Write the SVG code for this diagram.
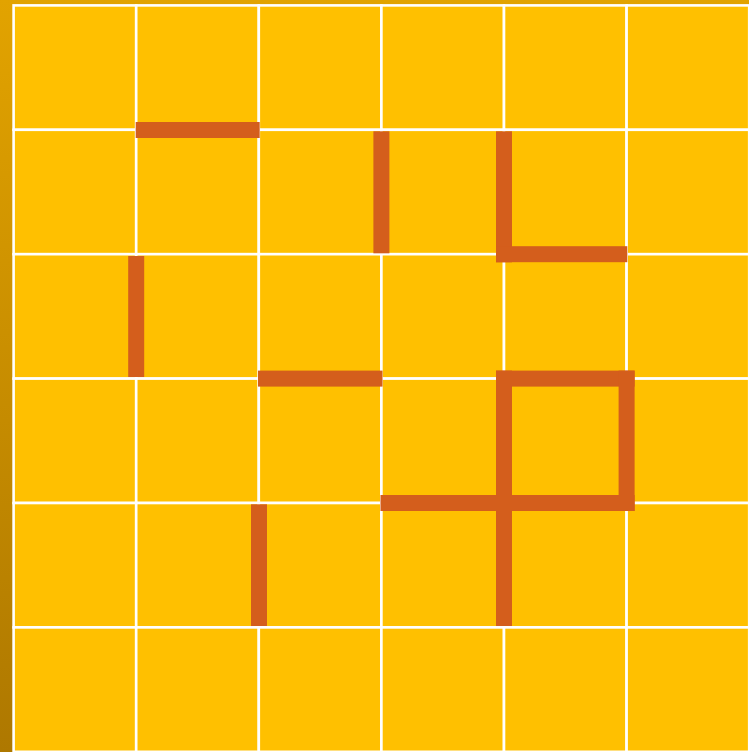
<svg xmlns="http://www.w3.org/2000/svg" width="749" height="752" viewBox="0 0 749 752">
<defs>
<linearGradient id="bg" x1="0" y1="0" x2="0" y2="1">
<stop offset="0" stop-color="#E2A300"/>
<stop offset="1" stop-color="#AE7800"/>
</linearGradient>
</defs>
<style>
.cell{fill:#FFC000;stroke:#FFFFFF;stroke-width:2.6}
.wall{fill:#D45E1C}
</style>
<rect x="0" y="0" width="749" height="752" fill="url(#bg)"/>
<g id="grid">
<rect class="cell" x="13.6" y="5.4" width="122.6" height="124.4"/>
<rect class="cell" x="136.2" y="5.4" width="122.6" height="124.4"/>
<rect class="cell" x="258.8" y="5.4" width="122.6" height="124.4"/>
<rect class="cell" x="381.4" y="5.4" width="122.6" height="124.4"/>
<rect class="cell" x="504" y="5.4" width="122.6" height="124.4"/>
<rect class="cell" x="626.6" y="5.4" width="122.6" height="124.4"/>
<rect class="cell" x="13.6" y="129.8" width="122.6" height="124.4"/>
<rect class="cell" x="136.2" y="129.8" width="122.6" height="124.4"/>
<rect class="cell" x="258.8" y="129.8" width="122.6" height="124.4"/>
<rect class="cell" x="381.4" y="129.8" width="122.6" height="124.4"/>
<rect class="cell" x="504" y="129.8" width="122.6" height="124.4"/>
<rect class="cell" x="626.6" y="129.8" width="122.6" height="124.4"/>
<rect class="cell" x="13.6" y="254.2" width="122.6" height="124.4"/>
<rect class="cell" x="136.2" y="254.2" width="122.6" height="124.4"/>
<rect class="cell" x="258.8" y="254.2" width="122.6" height="124.4"/>
<rect class="cell" x="381.4" y="254.2" width="122.6" height="124.4"/>
<rect class="cell" x="504" y="254.2" width="122.6" height="124.4"/>
<rect class="cell" x="626.6" y="254.2" width="122.6" height="124.4"/>
<rect class="cell" x="13.6" y="378.6" width="122.6" height="124.4"/>
<rect class="cell" x="136.2" y="378.6" width="122.6" height="124.4"/>
<rect class="cell" x="258.8" y="378.6" width="122.6" height="124.4"/>
<rect class="cell" x="381.4" y="378.6" width="122.6" height="124.4"/>
<rect class="cell" x="504" y="378.6" width="122.6" height="124.4"/>
<rect class="cell" x="626.6" y="378.6" width="122.6" height="124.4"/>
<rect class="cell" x="13.6" y="503" width="122.6" height="124.4"/>
<rect class="cell" x="136.2" y="503" width="122.6" height="124.4"/>
<rect class="cell" x="258.8" y="503" width="122.6" height="124.4"/>
<rect class="cell" x="381.4" y="503" width="122.6" height="124.4"/>
<rect class="cell" x="504" y="503" width="122.6" height="124.4"/>
<rect class="cell" x="626.6" y="503" width="122.6" height="124.4"/>
<rect class="cell" x="13.6" y="627.4" width="122.6" height="124.4"/>
<rect class="cell" x="136.2" y="627.4" width="122.6" height="124.4"/>
<rect class="cell" x="258.8" y="627.4" width="122.6" height="124.4"/>
<rect class="cell" x="381.4" y="627.4" width="122.6" height="124.4"/>
<rect class="cell" x="504" y="627.4" width="122.6" height="124.4"/>
<rect class="cell" x="626.6" y="627.4" width="122.6" height="124.4"/>
</g>
<g id="walls">
<rect class="wall" x="135.7" y="122" width="124" height="16"/>
<rect class="wall" x="373.4" y="131.3" width="16" height="122"/>
<rect class="wall" x="496" y="131.3" width="16" height="131"/>
<rect class="wall" x="496" y="246.2" width="131.3" height="16"/>
<rect class="wall" x="128.2" y="256" width="16" height="121"/>
<rect class="wall" x="258" y="370.6" width="124.5" height="16"/>
<rect class="wall" x="496" y="370.6" width="138.6" height="16"/>
<rect class="wall" x="618.6" y="370.6" width="16" height="140.4"/>
<rect class="wall" x="380.5" y="495" width="254.1" height="16"/>
<rect class="wall" x="496" y="370.6" width="16" height="255.4"/>
<rect class="wall" x="251" y="504.3" width="16" height="121.7"/>
</g>
</svg>
